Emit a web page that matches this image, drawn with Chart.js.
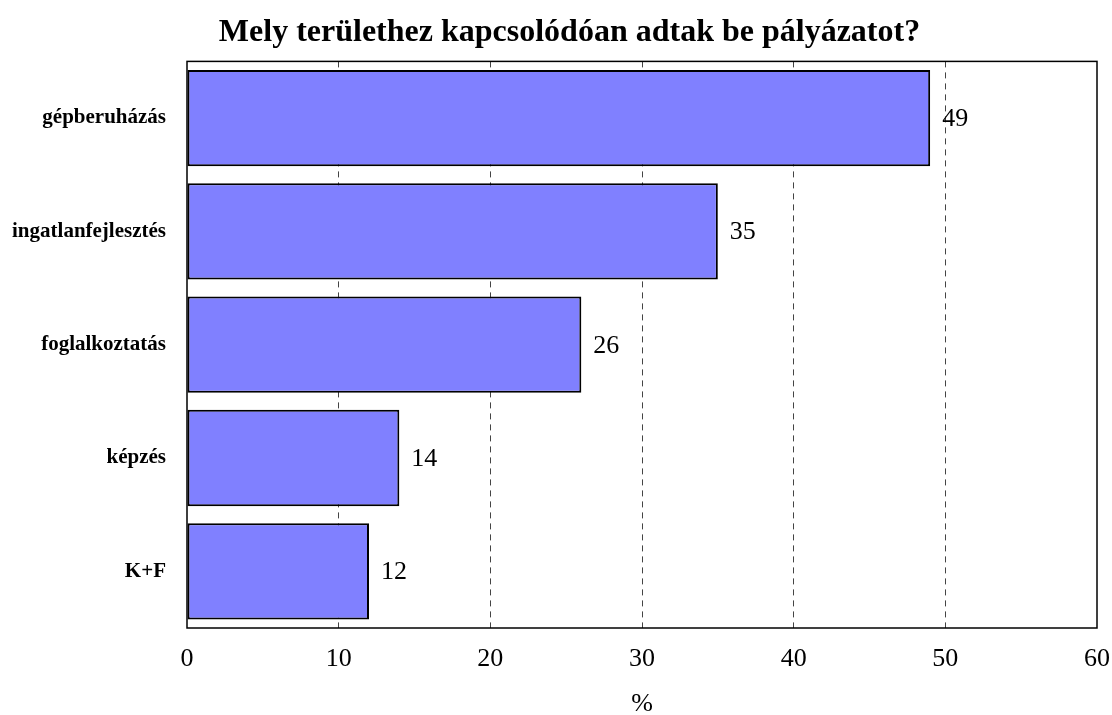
<!DOCTYPE html>
<html>
  <head>
    <meta charset="utf-8">
    <script src="https://cdn.jsdelivr.net/npm/chart.js@4/dist/chart.umd.min.js"></script>
    <style>
      html, body { margin: 0; padding: 0; background: #fff; }
      #wrap { width: 1112px; height: 715px; }
    </style>
  </head>

  <body>
    <div id="wrap">
      <canvas id="canvas"></canvas>
    </div>
    <script>
      const categories = ['gépberuházás', 'ingatlanfejlesztés', 'foglalkoztatás', 'képzés', 'K+F'];
      const values = [49, 35, 26, 14, 12];
      const xTicks = [0, 10, 20, 30, 40, 50, 60];

      const serif = "'Liberation Serif', 'Times New Roman', serif";

      // frame around the plot area, title nudged right of the canvas centre
      const frame = {
        id: 'frame',
        afterLayout(chart) {
          if (chart.titleBlock) chart.titleBlock.left = 42;
        },
        afterDraw(chart) {
          const { ctx, chartArea: a } = chart;
          ctx.save();
          ctx.strokeStyle = '#000';
          ctx.lineWidth = 1.5;
          ctx.strokeRect(a.left, a.top, a.right - a.left, a.bottom - a.top);
          ctx.restore();
        },
      };

      // numbers to the right of each bar
      const barValues = {
        id: 'barValues',
        afterDatasetsDraw(chart) {
          const { ctx } = chart;
          const meta = chart.getDatasetMeta(0);
          ctx.save();
          ctx.font = '26px ' + serif;
          ctx.fillStyle = '#000';
          ctx.textBaseline = 'middle';
          meta.data.forEach((bar, i) => {
            ctx.fillText(String(values[i]), bar.x + 12, bar.y + 1);
          });
          ctx.restore();
        },
      };

      new Chart(document.getElementById('canvas').getContext('2d'), {
        type: 'bar',
        data: {
          labels: categories,
          datasets: [
            {
              data: values,
              backgroundColor: '#8080ff',
              borderColor: '#000',
              borderWidth: 2,
              borderSkipped: false,
              barPercentage: 0.85,
              categoryPercentage: 1,
            },
          ],
        },
        options: {
          indexAxis: 'y',
          responsive: true,
          maintainAspectRatio: false,
          animation: false,
          layout: { padding: { left: 0, right: 15, top: 0, bottom: 0 } },
          plugins: {
            legend: { display: false },
            tooltip: { enabled: false },
            title: {
              display: true,
              text: 'Mely területhez kapcsolódóan adtak be pályázatot?',
              color: '#000',
              font: { family: serif, size: 32, weight: 'bold' },
              padding: { top: 14, bottom: 9 },
            },
          },
          scales: {
            x: {
              min: 0,
              max: 60,
              afterBuildTicks: (s) => { s.ticks = xTicks.map((v) => ({ value: v })); },
              afterFit: (s) => {
                s.height = 87;
                s.paddingLeft = 0;
                s.paddingRight = 0;
              },
              grid: {
                color: (c) => (c.tick && c.tick.value > 0 && c.tick.value < 60 ? '#444' : 'rgba(0,0,0,0)'),
                lineWidth: 1,
                drawTicks: false,
              },
              border: { display: false, dash: [6, 5] },
              ticks: {
                color: '#000',
                padding: 16,
                font: { family: serif, size: 26 },
              },
              title: {
                display: true,
                text: '%',
                color: '#000',
                font: { family: serif, size: 26 },
                padding: { top: 0, bottom: -5 },
              },
            },
            y: {
              afterFit: (s) => { s.width = 187; },
              grid: { display: false, drawTicks: false },
              border: { display: false },
              ticks: {
                color: '#000',
                padding: 21,
                font: { family: serif, size: 21, weight: 'bold' },
              },
            },
          },
        },
        plugins: [frame, barValues],
      });
    </script>
  </body>
</html>
